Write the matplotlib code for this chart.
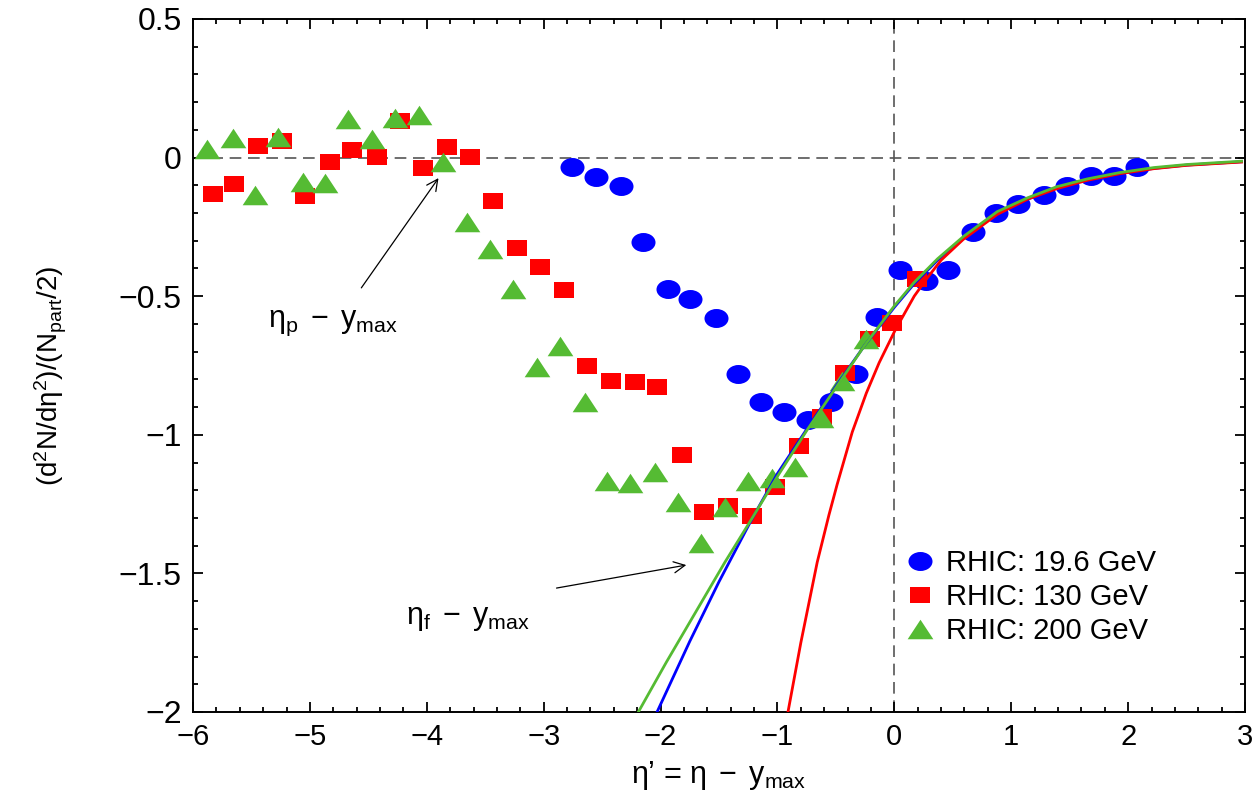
import numpy as np
import matplotlib
matplotlib.use("Agg")
import matplotlib.pyplot as plt
from matplotlib.path import Path
from matplotlib.transforms import Affine2D
from matplotlib.ticker import MultipleLocator, FuncFormatter

plt.rcParams['font.family'] = ['Liberation Sans', 'DejaVu Sans']
plt.rcParams['mathtext.fontset'] = 'custom'
plt.rcParams['mathtext.rm'] = 'Liberation Sans'
plt.rcParams['mathtext.it'] = 'Liberation Sans'
plt.rcParams['mathtext.default'] = 'regular'

# RHIC data points, eta' = eta - y_max
rhic19_x = [-2.76, -2.55, -2.34, -2.15, -1.94, -1.75, -1.53, -1.34, -1.14, -0.94, -0.74, -0.54, -0.33,
            -0.15, 0.05, 0.27, 0.46, 0.67, 0.87, 1.06, 1.28, 1.48, 1.68, 1.88, 2.08]
rhic19_y = [-0.034, -0.070, -0.102, -0.304, -0.474, -0.510, -0.579, -0.781, -0.882, -0.918, -0.947, -0.882, -0.781,
            -0.575, -0.405, -0.445, -0.405, -0.268, -0.200, -0.167, -0.135, -0.102, -0.066, -0.066, -0.034]

rhic130_x = [-5.83, -5.65, -5.44, -5.24, -5.04, -4.83, -4.64, -4.43, -4.23, -4.03, -3.83, -3.63, -3.43, -3.23,
             -3.03, -2.83, -2.63, -2.42, -2.22, -2.03, -1.82, -1.63, -1.42, -1.22, -1.02, -0.82, -0.62, -0.42,
             -0.21, -0.02, 0.19]
rhic130_y = [-0.131, -0.095, 0.042, 0.060, -0.139, -0.016, 0.027, 0.002, 0.132, -0.038, 0.038, 0.002, -0.157, -0.326,
             -0.395, -0.478, -0.752, -0.806, -0.810, -0.828, -1.073, -1.278, -1.257, -1.293, -1.188, -1.040, -0.936, -0.777,
             -0.654, -0.597, -0.438]

rhic200_x = [-5.88, -5.66, -5.47, -5.27, -5.06, -4.87, -4.67, -4.47, -4.27, -4.07, -3.86, -3.66, -3.46, -3.26,
             -3.06, -2.86, -2.65, -2.46, -2.26, -2.05, -1.85, -1.65, -1.45, -1.25, -1.05, -0.85, -0.63, -0.45, -0.24]
rhic200_y = [0.031, 0.071, -0.135, 0.074, -0.088, -0.092, 0.139, 0.067, 0.143, 0.154, -0.016, -0.232, -0.330, -0.474,
             -0.755, -0.680, -0.882, -1.167, -1.174, -1.134, -1.242, -1.390, -1.260, -1.167, -1.156, -1.116, -0.939, -0.806, -0.654]

# model curves
curve19_x = [-2.03, -1.75, -1.50, -1.22, -1.00, -0.75, -0.50, -0.25, 0.00, 0.17, 0.37, 0.59, 0.88, 1.14, 1.39,
             1.65, 1.93, 2.22, 2.50, 2.97]
curve19_y = [-2.00, -1.745, -1.53, -1.305, -1.14, -0.98, -0.825, -0.675, -0.54, -0.455, -0.37, -0.29, -0.20, -0.15,
             -0.11, -0.08, -0.057, -0.039, -0.027, -0.015]

curve130_x = [-0.91, -0.80, -0.66, -0.56, -0.49, -0.36, -0.24, -0.13, 0.01, 0.17, 0.28, 0.40, 0.59, 0.88, 1.14,
              1.39, 1.65, 1.93, 2.22, 2.50, 2.97]
curve130_y = [-2.00, -1.75, -1.46, -1.29, -1.18, -0.99, -0.85, -0.74, -0.62, -0.50, -0.435, -0.37, -0.295, -0.205,
              -0.15, -0.112, -0.082, -0.058, -0.040, -0.028, -0.016]

curve200_x = [-2.19, -1.95, -1.70, -1.45, -1.23, -1.00, -0.75, -0.50, -0.25, 0.00, 0.17, 0.37, 0.59, 0.88, 1.14,
              1.39, 1.65, 1.93, 2.22, 2.50, 2.97]
curve200_y = [-2.00, -1.82, -1.64, -1.46, -1.31, -1.15, -0.985, -0.83, -0.675, -0.535, -0.45, -0.365, -0.285, -0.195,
              -0.145, -0.105, -0.077, -0.054, -0.036, -0.025, -0.013]

labels = ['RHIC: 19.6 GeV', 'RHIC: 130 GeV', 'RHIC: 200 GeV']

blue = '#0000ff'
red = '#ff0000'
green = '#55bb33'

# slightly squashed marker shapes
ellipse = Path.unit_circle().transformed(Affine2D().scale(1.0, 0.79))
rect = Path([(-1, -0.77), (1, -0.77), (1, 0.77), (-1, 0.77), (-1, -0.77)],
            [Path.MOVETO, Path.LINETO, Path.LINETO, Path.LINETO, Path.CLOSEPOLY])
tri = Path([(0, 0.76), (-1, -0.76), (1, -0.76), (0, 0.76)],
           [Path.MOVETO, Path.LINETO, Path.LINETO, Path.CLOSEPOLY])

fig = plt.figure(figsize=(12.59, 7.98), dpi=100)
ax = fig.add_axes([0.1533, 0.1078, 0.8356, 0.8684])

ax.axhline(0, color='#555555', lw=1.2, dashes=(7, 4), zorder=1)
ax.axvline(0, color='#555555', lw=1.2, dashes=(7, 4), zorder=1)

ax.plot(rhic19_x, rhic19_y, ls='none', marker=ellipse, ms=17.3, mfc=blue, mec=blue, mew=0, label=labels[0], zorder=3)
ax.plot(rhic130_x, rhic130_y, ls='none', marker=rect, ms=15, mfc=red, mec=red, mew=0, label=labels[1], zorder=4)
ax.plot(rhic200_x, rhic200_y, ls='none', marker=tri, ms=18.5, mfc=green, mec=green, mew=0, label=labels[2], zorder=5)

ax.plot(curve19_x, curve19_y, c=blue, lw=2.0, zorder=6)
ax.plot(curve130_x, curve130_y, c=red, lw=2.0, zorder=6)
ax.plot(curve200_x, curve200_y, c=green, lw=2.0, zorder=7)

arrow = dict(arrowstyle='->', lw=0.9, color='black', shrinkA=0, shrinkB=0, mutation_scale=20)
ax.annotate('', xy=(-3.90, -0.074), xytext=(-4.56, -0.47), arrowprops=arrow)
ax.annotate('', xy=(-1.78, -1.47), xytext=(-2.89, -1.553), arrowprops=arrow)
ax.text(-4.80, -0.595, r'$\eta_p\;-\;y_{max}$', fontsize=22, ha='center', va='center')
ax.text(-3.65, -1.66, r'$\eta_f\;-\;y_{max}$', fontsize=22, ha='center', va='center')

ax.set_xlim(-6, 3)
ax.set_ylim(-2, 0.5)
ax.xaxis.set_major_locator(MultipleLocator(1))
ax.xaxis.set_minor_locator(MultipleLocator(0.2))
ax.yaxis.set_major_locator(MultipleLocator(0.5))
ax.yaxis.set_minor_locator(MultipleLocator(0.1))
fmt = FuncFormatter(lambda v, p: ('%g' % v).replace('-', '\u2212'))
ax.xaxis.set_major_formatter(fmt)
ax.yaxis.set_major_formatter(fmt)
ax.tick_params(which='both', direction='in', top=True, right=True, width=1.3)
ax.tick_params(axis='x', labelsize=21)
ax.tick_params(axis='y', labelsize=23)
ax.tick_params(which='major', length=7.5, pad=8)
ax.tick_params(which='minor', length=3.8)
for s in ax.spines.values():
    s.set_linewidth(1.4)

ax.set_xlabel('$\\eta$\u2019 = $\\eta\\;-\\;y_{max}$', fontsize=22)
ax.set_ylabel('(d$^2$N/d$\\eta^2$)/(N$_{part}$/2)', fontsize=20)
ax.xaxis.set_label_coords(0.5, -0.068)
ax.yaxis.set_label_coords(-0.118, 0.485)

ax.legend(loc='center left', bbox_to_anchor=(0.677, 0.166), frameon=False, fontsize=21,
          handlelength=1.0, handletextpad=0.4, labelspacing=0.2, borderaxespad=0, borderpad=0)

fig.savefig('out.png', dpi=100)
